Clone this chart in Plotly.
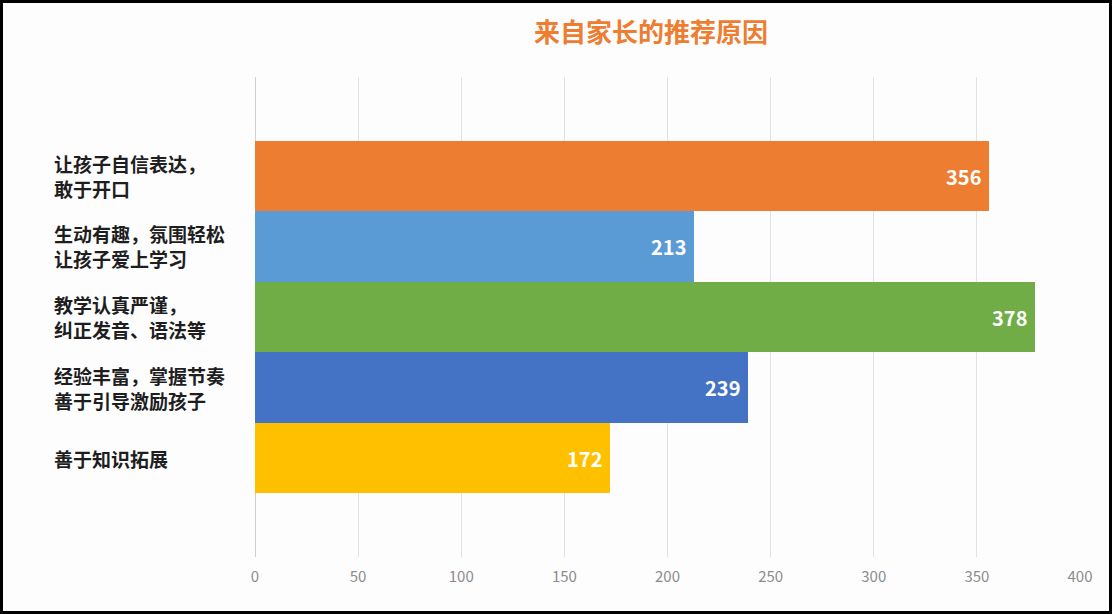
import plotly.graph_objects as go

W, H = 1112, 614

# chart data
reasons = [
    "让孩子自信表达，<br>敢于开口",
    "生动有趣，氛围轻松<br>让孩子爱上学习",
    "教学认真严谨，<br>纠正发音、语法等",
    "经验丰富，掌握节奏<br>善于引导激励孩子",
    "善于知识拓展",
]
counts = [356, 213, 378, 239, 172]
bar_colors = ["#ED7D31", "#5B9BD5", "#70AD47", "#4472C4", "#FFC000"]
x_ticks = [0, 50, 100, 150, 200, 250, 300, 350, 400]

font = "Noto Sans CJK SC"

fig = go.Figure(go.Bar(
    x=counts,
    y=reasons,
    orientation="h",
    marker=dict(color=bar_colors, line=dict(width=0)),
    text=counts,
    texttemplate="%{text}\u00a0",
    textposition="inside",
    insidetextanchor="end",
    textfont=dict(family=font, size=20, color="white", weight="bold"),
    cliponaxis=False,
))

# left-aligned category labels
for r in reasons:
    fig.add_annotation(
        x=53 / W, xref="paper", xanchor="left",
        y=r, yref="y", yanchor="middle",
        text=r, align="left", showarrow=False, borderpad=0,
        font=dict(family=font, size=19, color="#1e1e1e", weight="bold"),
    )

# black frame round the picture
fig.add_shape(type="rect", xref="paper", yref="paper", x0=0, x1=1, y0=0, y1=1,
              line=dict(color="black", width=6), fillcolor="rgba(0,0,0,0)")

fig.update_layout(
    width=W, height=H,
    margin=dict(l=0, r=0, t=0, b=0),
    paper_bgcolor="#fdfdfe",
    plot_bgcolor="#fdfdfe",
    bargap=0,
    showlegend=False,
    title=dict(text="来自家长的推荐原因", x=651 / W, xanchor="center",
               y=1 - 33 / H, yanchor="middle", automargin=False,
               font=dict(family=font, size=26, color="#ED7D31", weight="bold")),
    xaxis=dict(
        domain=[255 / W, 1080 / W],
        range=[0, 400],
        tickvals=x_ticks,
        automargin=False,
        showgrid=True, gridcolor="#e2e2e6", gridwidth=1,
        zeroline=True, zerolinecolor="#d0d0d4", zerolinewidth=1,
        ticks="outside", ticklen=6, tickcolor="rgba(0,0,0,0)",
        tickfont=dict(family=font, size=15, color="#8c8c8c"),
    ),
    yaxis=dict(
        domain=[(H - 557) / H, (H - 77) / H],
        type="category",
        range=[5.4, -1.4],
        automargin=False,
        showticklabels=False,
        showgrid=False, zeroline=False,
    ),
)

fig.write_html(
    "out.html",
    config={"displayModeBar": False, "responsive": False},
    post_script="document.body.style.margin='0';document.body.style.overflow='hidden';",
)
